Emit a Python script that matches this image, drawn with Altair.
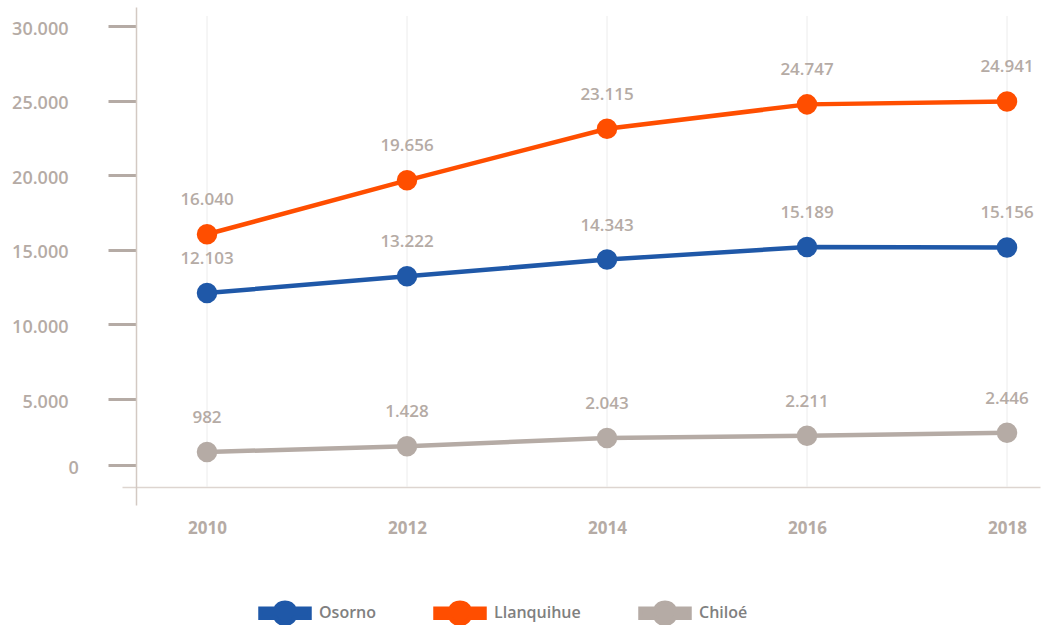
import altair as alt
import pandas as pd

years = [2010, 2012, 2014, 2016, 2018]
series_names = ["Osorno", "Llanquihue", "Chiloé"]
osorno = [12103, 13222, 14343, 15189, 15156]
llanquihue = [16040, 19656, 23115, 24747, 24941]
chiloe = [982, 1428, 2043, 2211, 2446]
y_ticks = [0, 5000, 10000, 15000, 20000, 25000, 30000]

colors = ["#1f58a8", "#ff4e00", "#b5aba5"]
grey = "#b5aba5"
font = "Open Sans"

rows = []
for name, vals in zip(series_names, [osorno, llanquihue, chiloe]):
    for yr, v in zip(years, vals):
        rows.append({"year": yr, "series": name, "value": v})
df = pd.DataFrame(rows)
grid_df = pd.DataFrame({"year": years})

xscale = alt.Scale(domain=[2009.15, 2018.33], nice=False, zero=False)
yscale = alt.Scale(domain=[-3030, 0, 5000, 30000, 31273],
                   range=[498, 458, 392, 19, 0], nice=False, zero=False)
cscale = alt.Scale(domain=series_names, range=colors)

legend_path = ("M-1,-0.18L-0.39,-0.18A0.43,0.43 0 0 1 0.39,-0.18L1,-0.18L1,0.18"
               "L0.39,0.18A0.43,0.43 0 0 1 -0.39,0.18L-1,0.18Z")

legend = alt.Legend(title=None, orient="none", direction="horizontal",
                    columns=3, legendX=136, legendY=579, padding=0,
                    symbolType=legend_path, symbolSize=2401,
                    symbolStrokeWidth=0, symbolOpacity=1,
                    labelFont=font, labelFontSize=16, labelFontWeight=600,
                    labelColor="#808080", labelOffset=7,
                    columnPadding=50)

xaxis = alt.Axis(values=years, format="d", title=None, grid=False, ticks=False,
                 domainColor="#ddd5d0", domainWidth=1.5, offset=-18,
                 labelFont=font, labelFontSize=17, labelFontWeight=700,
                 labelColor=grey, labelPadding=33)
yaxis = alt.Axis(values=y_ticks, title=None, grid=False, ticks=True,
                 tickSize=28, tickWidth=3, tickColor=grey,
                 domainColor="#d3c9c3", domainWidth=1.5, offset=-14,
                 labelExpr="replace(format(datum.value, ','), ',', '.')",
                 labelAlign={"condition": {"test": "datum.value == 0", "value": "left"},
                             "value": "right"},
                 labelFont=font, labelFontSize=18, labelFontWeight=600,
                 labelColor=grey, labelPadding=40, labelOffset=3)

grid = alt.Chart(grid_df).mark_rule(color="#ececec", strokeWidth=1).encode(
    x=alt.X("year:Q", scale=xscale, axis=xaxis),
    y=alt.value(9),
    y2=alt.value(480),
)

lines = alt.Chart(df).mark_line().encode(
    x=alt.X("year:Q", scale=xscale, axis=xaxis),
    y=alt.Y("value:Q", scale=yscale, axis=yaxis),
    color=alt.Color("series:N", scale=cscale, legend=legend),
    strokeWidth=alt.StrokeWidth("series:N",
                                scale=alt.Scale(domain=series_names, range=[4.5, 4.5, 7]),
                                legend=None),
    detail="series:N",
)

points = alt.Chart(df).mark_point(filled=True, opacity=1, size=420, shape="circle").encode(
    x=alt.X("year:Q", scale=xscale),
    y=alt.Y("value:Q", scale=yscale),
    color=alt.Color("series:N", scale=cscale, legend=legend),
)

labels = alt.Chart(df).transform_calculate(
    label="replace(format(datum.value, ','), ',', '.')"
).mark_text(font=font, fontSize=17, fontWeight=600, color=grey, dy=-34).encode(
    x=alt.X("year:Q", scale=xscale),
    y=alt.Y("value:Q", scale=yscale),
    text="label:N",
)

chart = alt.layer(grid, lines, points, labels).properties(
    width=918, height=498, background="white",
    autosize=alt.AutoSizeParams(type="none"),
    padding={"left": 122, "top": 7, "right": 2, "bottom": 120},
).configure_view(stroke=None)

chart.save("out.html", embed_options={"renderer": "svg", "actions": False})
